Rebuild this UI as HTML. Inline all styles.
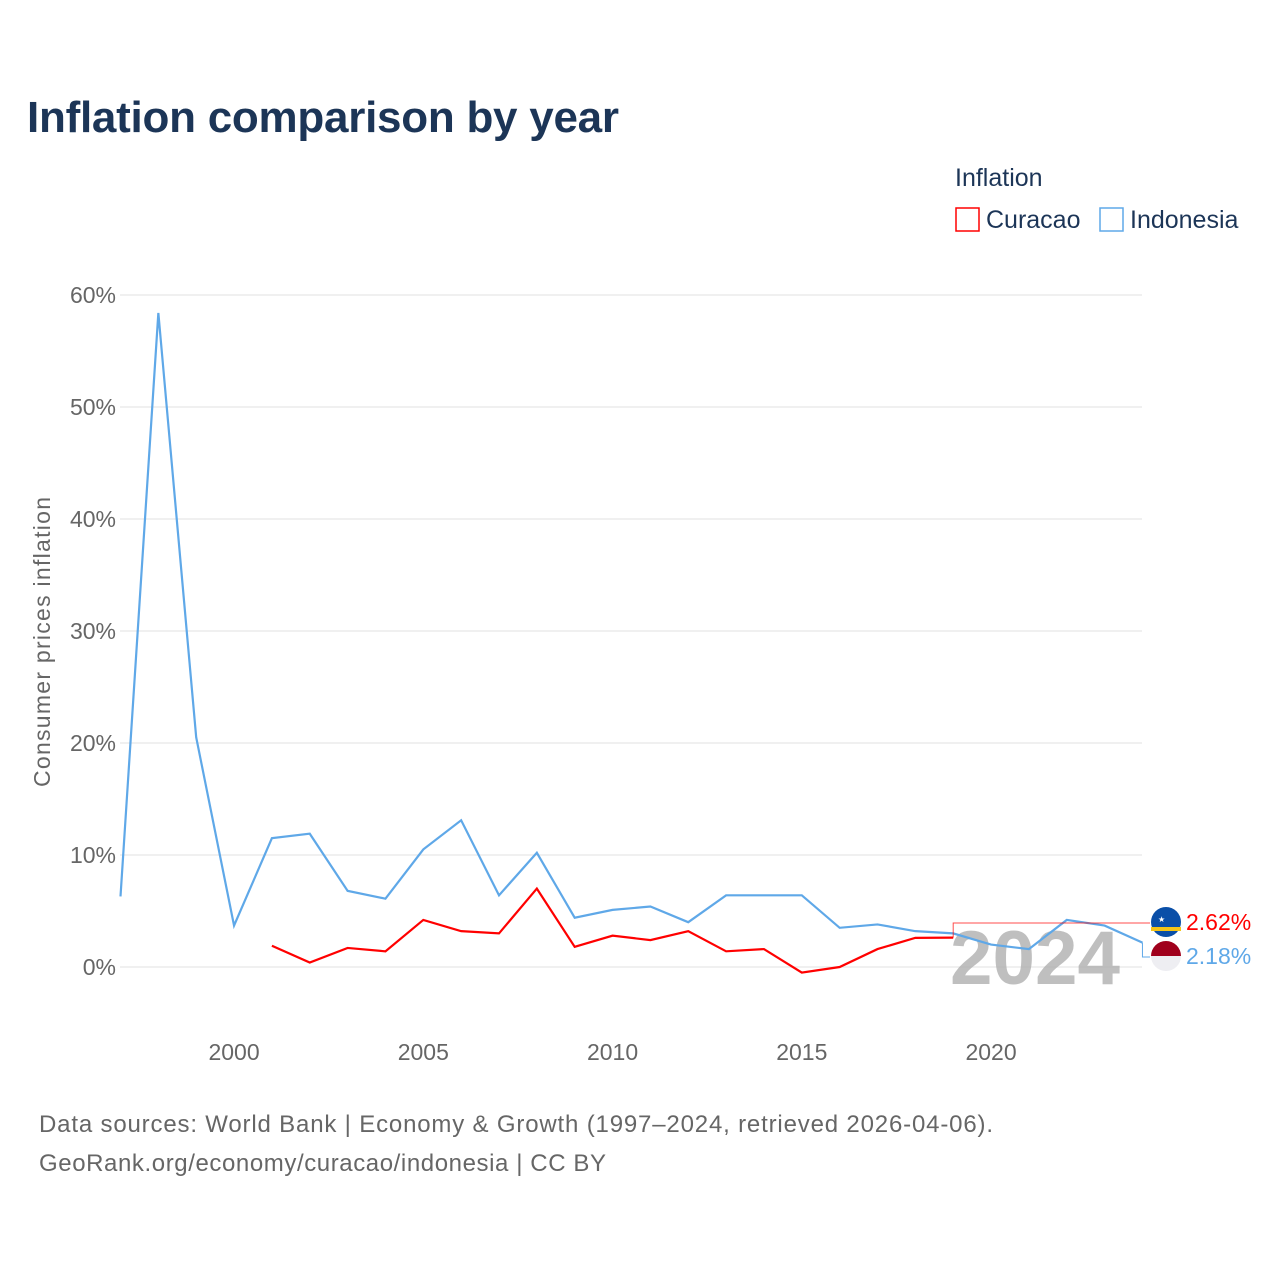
<!DOCTYPE html>
<html><head><meta charset="utf-8"><style>
body{margin:0;background:#fff;width:1280px;height:1280px;overflow:hidden;font-family:"Liberation Sans",sans-serif}
</style></head><body>
<svg width="1280" height="1280" id="svg" font-family="Liberation Sans, sans-serif">
<text x="27" y="132" font-size="44" font-weight="bold" fill="#1c3557" textLength="592">Inflation comparison by year</text>
<text x="955" y="186" font-size="25" fill="#1c3557">Inflation</text>
<g><rect x="956" y="208" width="23" height="23" fill="none" stroke="#ff0000" stroke-width="1.5"/><text x="986" y="228" font-size="25" fill="#1c3557">Curacao</text></g>
<g><rect x="1100" y="208" width="23" height="23" fill="none" stroke="#5fa8e8" stroke-width="1.5"/><text x="1130" y="228" font-size="25" fill="#1c3557">Indonesia</text></g>
<text transform="translate(50,642) rotate(-90)" text-anchor="middle" font-size="23" fill="#666" textLength="290">Consumer prices inflation</text>
<g id="grid"></g><g id="ticks"></g>
<text x="950" y="984" font-size="76" font-weight="bold" fill="#aaa" fill-opacity="0.75" textLength="170" lengthAdjust="spacingAndGlyphs">2024</text>
<g id="lines"></g>
<g><circle cx="1166" cy="922" r="15" fill="#0a4fa8"/><rect x="1151" y="927" width="30" height="4" fill="#f5c518"/><text x="1158" y="922" font-size="8" fill="#fff">★</text></g>
<g><clipPath id="cp"><circle cx="1166" cy="956" r="15"/></clipPath><g clip-path="url(#cp)"><rect x="1150" y="940" width="32" height="16" fill="#a0001c"/><rect x="1150" y="956" width="32" height="16" fill="#eeeef2"/></g></g>
<text x="1186" y="930" font-size="23" fill="#ff0000">2.62%</text>
<text x="1186" y="964" font-size="23" fill="#5fa8e8">2.18%</text>
<text x="39" y="1132" font-size="24" fill="#666" textLength="954">Data sources: World Bank | Economy &amp; Growth (1997–2024, retrieved 2026-04-06).</text>
<text x="39" y="1171" font-size="24" fill="#666" textLength="567">GeoRank.org/economy/curacao/indonesia | CC BY</text>
</svg>
<script>
const years=[1997,1998,1999,2000,2001,2002,2003,2004,2005,2006,2007,2008,2009,2010,2011,2012,2013,2014,2015,2016,2017,2018,2019,2020,2021,2022,2023,2024];
const indonesia=[6.3,58.4,20.5,3.7,11.5,11.9,6.8,6.1,10.5,13.1,6.4,10.2,4.4,5.1,5.4,4.0,6.4,6.4,6.4,3.5,3.8,3.2,3.0,2.0,1.6,4.2,3.7,2.18];
const curacaoYears=[2001,2002,2003,2004,2005,2006,2007,2008,2009,2010,2011,2012,2013,2014,2015,2016,2017,2018,2019];
const curacao=[1.9,0.4,1.7,1.4,4.2,3.2,3.0,7.0,1.8,2.8,2.4,3.2,1.4,1.6,-0.5,0.0,1.6,2.6,2.62];
const yTicks=[0,10,20,30,40,50,60];
const xTicks=[2000,2005,2010,2015,2020];
const NS="http://www.w3.org/2000/svg";
const X=y=>120.5+(y-1997)*37.85, Y=v=>967-v*11.2;
function mk(t,a,p){const e=document.createElementNS(NS,t);for(const k in a)e.setAttribute(k,a[k]);p.appendChild(e);return e;}
const g=document.getElementById('grid'),tk=document.getElementById('ticks'),ln=document.getElementById('lines');
yTicks.forEach(v=>{const l=mk('line',{x1:120,x2:1142,y1:Y(v),y2:Y(v),stroke:'#e6e6e6','stroke-width':1.2},g);


const t=mk('text',{x:116,y:Y(v)+8,'text-anchor':'end','font-size':23,fill:'#666'},tk);t.textContent=v+'%';

});
xTicks.forEach(v=>{const t=mk('text',{x:X(v),y:1060,'text-anchor':'middle','font-size':23,fill:'#666'},tk);t.textContent=v;

});
const pi=mk('polyline',{points:years.map((y,i)=>X(y)+','+Y(indonesia[i])).join(' '),fill:'none',stroke:'#5fa8e8','stroke-width':2.2},ln);


const pc=mk('polyline',{points:curacaoYears.map((y,i)=>X(y)+','+Y(curacao[i])).join(' '),fill:'none',stroke:'#ff0000','stroke-width':2.2},ln);


const lx=X(curacaoYears[curacaoYears.length-1]),ly=Y(curacao[curacao.length-1]);
const c1=mk('polyline',{points:`${lx},${ly} ${lx},923 1150,923`,fill:'none',stroke:'#ff0000','stroke-width':1,'stroke-opacity':0.7},ln);


const bx=X(2024),by=Y(indonesia[indonesia.length-1]);
const c2=mk('polyline',{points:`${bx},${by} ${bx},957 1150,957`,fill:'none',stroke:'#5fa8e8','stroke-width':1},ln);


</script>
</body></html>
